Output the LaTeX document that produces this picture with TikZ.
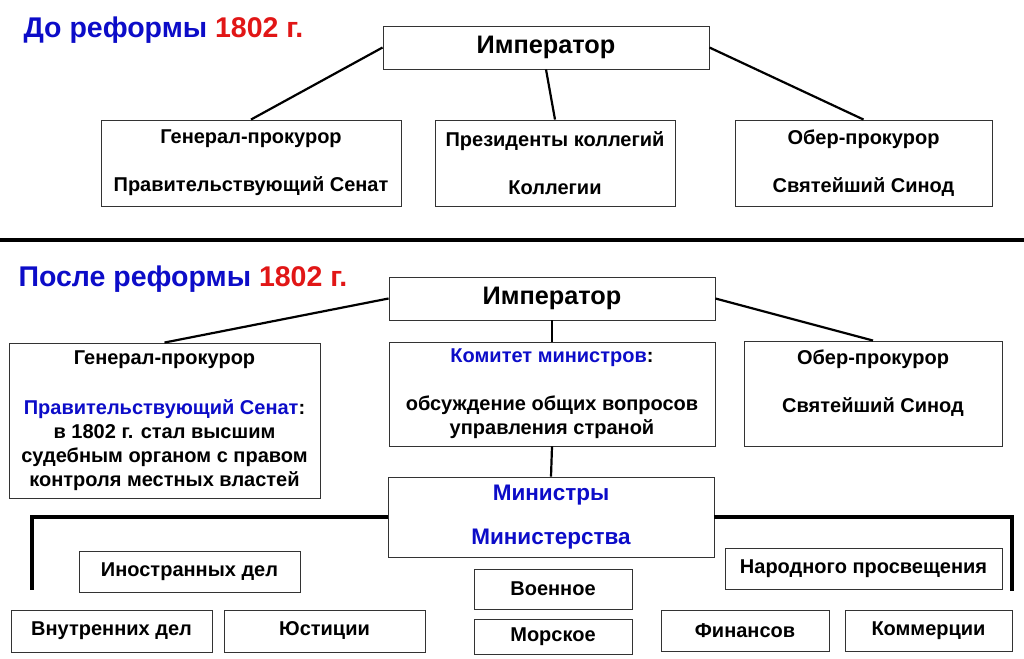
\documentclass[tikz,border=0pt]{standalone}
\usepackage{fontspec}
\setmainfont{Liberation Sans}
\definecolor{refblue}{RGB}{12,12,200}
\definecolor{refred}{RGB}{225,22,22}

\begin{document}
\begin{tikzpicture}[x=1pt,y=-1pt,
  box/.style={draw=black!80,line width=0.9pt,inner sep=0pt,align=center,
    font=\bfseries\fontsize{20}{24}\selectfont},
  imp/.style={box,font=\bfseries\fontsize{25.3}{28}\selectfont},
  head/.style={anchor=west,font=\bfseries\fontsize{28.5}{30}\selectfont},
  link/.style={line width=2.2pt},
  bar/.style={line width=3.4pt}]
  \useasboundingbox (0,0) rectangle (1024,658);

  % before the reform
  \node[head] (title1) at (20,30) {\color{refblue}До реформы \color{refred}1802 г.};
  \node[imp,minimum width=326pt,minimum height=43pt] (imp1) at (546,47.5) {Император};
  \node[box,minimum width=300pt,minimum height=86pt] (gen1) at (251,163)
    {Генерал-прокурор\\[24pt]Правительствующий Сенат};
  \node[box,minimum width=240pt,minimum height=86pt] (pres1) at (555,163)
    {Президенты коллегий\\[24pt]Коллегии};
  \node[box,minimum width=257pt,minimum height=86pt] (ober1) at (863.5,163)
    {Обер-прокурор\\[24pt]Святейший Синод};
  \draw[link] (imp1.west) -- (gen1.north);
  \draw[link] (imp1.south) -- (pres1.north);
  \draw[link] (imp1.east) -- (ober1.north);

  \coordinate (sepL) at (0,240);
  \coordinate (sepR) at (1024,240);
  \draw[line width=4pt] (sepL) -- (sepR);

  % after the reform
  \node[head] (title2) at (15,279) {\color{refblue}После реформы \color{refred}1802 г.};
  \node[imp,minimum width=326pt,minimum height=43pt] (imp2) at (552,298.5) {Император};
  \node[box,minimum width=311pt,minimum height=155pt] (gen2) at (164.5,420.5)
    {Генерал-прокурор\\[26pt]{\color{refblue}Правительствующий Сенат}:\\
     в 1802 г. стал высшим\\судебным органом с правом\\контроля местных властей};
  \node[box,minimum width=326pt,minimum height=104pt] (kom) at (552,394)
    {{\color{refblue}Комитет министров}:\\[24pt]обсуждение общих вопросов\\управления страной};
  \node[box,minimum width=258pt,minimum height=105pt] (ober2) at (873,393.5) {};
  \node[align=center,inner sep=0pt,font=\bfseries\fontsize{20}{24}\selectfont] (ober2t)
    at ([yshift=-43pt]ober2.north) {Обер-прокурор\\[24pt]Святейший Синод};
  \node[box,minimum width=326pt,minimum height=80pt,text=refblue,
    font=\bfseries\fontsize{22.5}{24}\selectfont] (min) at (551,517)
    {Министры\\[20pt]Министерства};
  \draw[link] (imp2.west) -- (gen2.north);
  \draw[link] (imp2.south) -- (kom.north);
  \draw[link] (imp2.east) -- (ober2.north);
  \draw[link] (kom.south) -- (min.north);

  \coordinate (barL) at (32,590);
  \coordinate (barR) at (1012,591);
  \draw[bar] (min.west) -| (barL);
  \draw[bar] (min.east) -| (barR);

  % ministries
  \node[box,minimum width=221pt,minimum height=41pt] (inos) at (189.5,571.5) {Иностранных дел};
  \node[box,minimum width=201pt,minimum height=42pt] (vnut) at (111.5,631) {Внутренних дел};
  \node[box,minimum width=201pt,minimum height=42pt] (yust) at (324.5,631) {Юстиции};
  \node[box,minimum width=158pt,minimum height=40pt] (voen) at (553,589) {Военное};
  \node[box,minimum width=158pt,minimum height=35pt] (mors) at (553,636.5) {Морское};
  \node[box,minimum width=277pt,minimum height=41pt] (narod) at (863.5,568.5) {Народного просвещения};
  \node[box,minimum width=168pt,minimum height=41pt] (fin) at (745,630.5) {Финансов};
  \node[box,minimum width=167pt,minimum height=41pt] (komm) at (928.5,630.5) {Коммерции};
\end{tikzpicture}
\end{document}
